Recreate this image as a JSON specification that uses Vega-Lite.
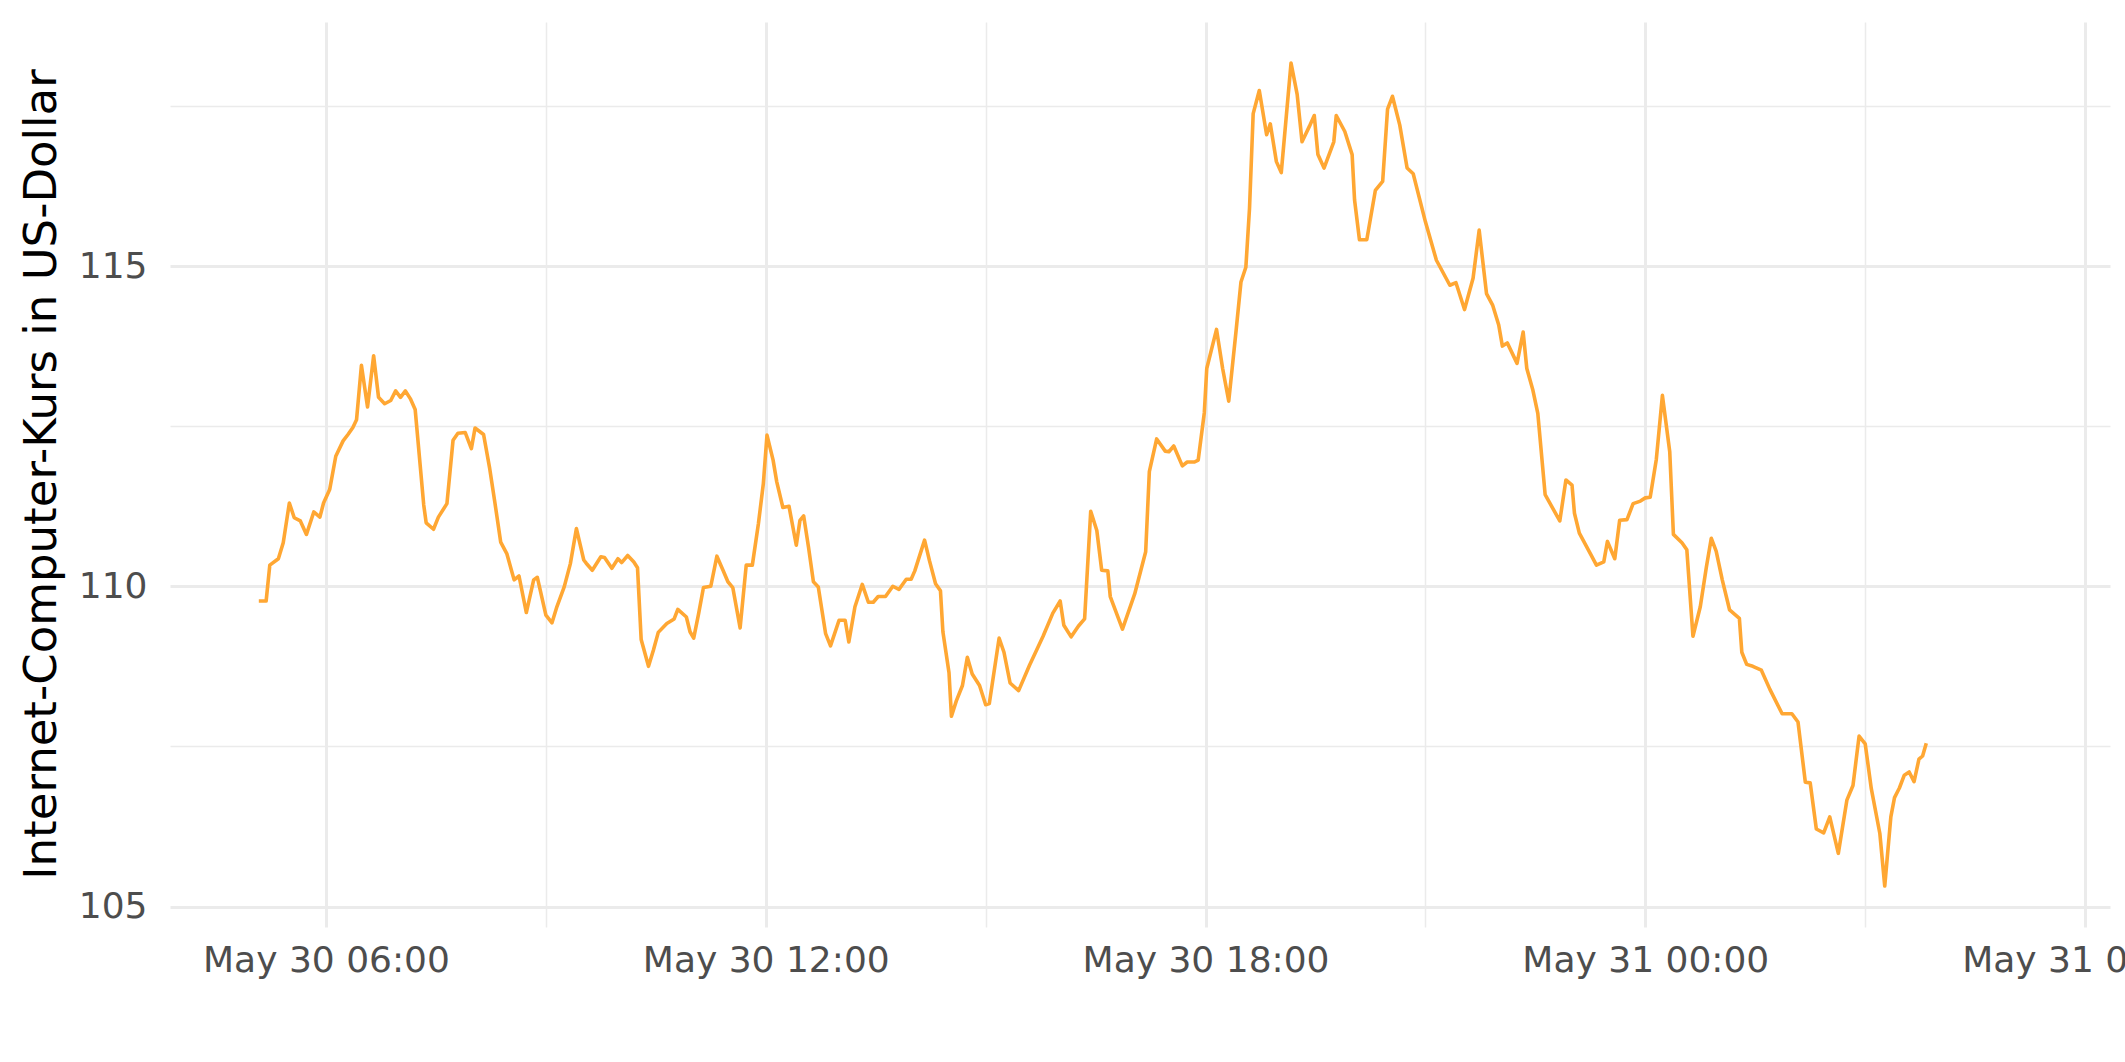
{
  "$schema": "https://vega.github.io/schema/vega-lite/v6.json",
  "width": 1940,
  "height": 905,
  "autosize": "none",
  "padding": {"left": 170, "top": 22, "right": 15, "bottom": 135},
  "background": "white",
  "config": {"view": {"stroke": null}, "font": "DejaVu Sans"},
  "data": {"values": [
    {"t":"2024-05-30T05:05:00Z","v":109.77},{"t":"2024-05-30T05:11:00Z","v":109.77},{"t":"2024-05-30T05:14:00Z","v":110.33},{"t":"2024-05-30T05:21:00Z","v":110.43},{"t":"2024-05-30T05:25:00Z","v":110.68},{"t":"2024-05-30T05:30:00Z","v":111.30},{"t":"2024-05-30T05:34:00Z","v":111.07},{"t":"2024-05-30T05:39:00Z","v":111.02},{"t":"2024-05-30T05:44:00Z","v":110.81},{"t":"2024-05-30T05:50:00Z","v":111.16},{"t":"2024-05-30T05:55:00Z","v":111.08},{"t":"2024-05-30T05:58:00Z","v":111.30},
    {"t":"2024-05-30T06:03:00Z","v":111.51},{"t":"2024-05-30T06:08:00Z","v":112.03},{"t":"2024-05-30T06:14:00Z","v":112.27},{"t":"2024-05-30T06:18:00Z","v":112.37},{"t":"2024-05-30T06:22:00Z","v":112.48},{"t":"2024-05-30T06:25:00Z","v":112.60},{"t":"2024-05-30T06:29:00Z","v":113.45},{"t":"2024-05-30T06:34:00Z","v":112.80},{"t":"2024-05-30T06:39:00Z","v":113.60},{"t":"2024-05-30T06:43:00Z","v":112.95},{"t":"2024-05-30T06:48:00Z","v":112.85},{"t":"2024-05-30T06:53:00Z","v":112.90},{"t":"2024-05-30T06:57:00Z","v":113.05},
    {"t":"2024-05-30T07:01:00Z","v":112.95},{"t":"2024-05-30T07:05:00Z","v":113.05},{"t":"2024-05-30T07:09:00Z","v":112.93},{"t":"2024-05-30T07:13:00Z","v":112.76},{"t":"2024-05-30T07:20:00Z","v":111.27},{"t":"2024-05-30T07:22:00Z","v":110.99},{"t":"2024-05-30T07:28:00Z","v":110.89},{"t":"2024-05-30T07:32:00Z","v":111.08},{"t":"2024-05-30T07:39:00Z","v":111.29},{"t":"2024-05-30T07:44:00Z","v":112.28},{"t":"2024-05-30T07:48:00Z","v":112.39},{"t":"2024-05-30T07:54:00Z","v":112.40},{"t":"2024-05-30T07:59:00Z","v":112.15},
    {"t":"2024-05-30T08:02:00Z","v":112.47},{"t":"2024-05-30T08:09:00Z","v":112.37},{"t":"2024-05-30T08:14:00Z","v":111.84},{"t":"2024-05-30T08:18:00Z","v":111.34},{"t":"2024-05-30T08:23:00Z","v":110.69},{"t":"2024-05-30T08:28:00Z","v":110.51},{"t":"2024-05-30T08:34:00Z","v":110.10},{"t":"2024-05-30T08:38:00Z","v":110.16},{"t":"2024-05-30T08:44:00Z","v":109.59},{"t":"2024-05-30T08:50:00Z","v":110.10},{"t":"2024-05-30T08:53:00Z","v":110.14},
    {"t":"2024-05-30T09:00:00Z","v":109.55},{"t":"2024-05-30T09:05:00Z","v":109.43},{"t":"2024-05-30T09:09:00Z","v":109.68},{"t":"2024-05-30T09:15:00Z","v":109.99},{"t":"2024-05-30T09:20:00Z","v":110.35},{"t":"2024-05-30T09:25:00Z","v":110.90},{"t":"2024-05-30T09:31:00Z","v":110.41},{"t":"2024-05-30T09:33:00Z","v":110.36},{"t":"2024-05-30T09:38:00Z","v":110.25},{"t":"2024-05-30T09:45:00Z","v":110.46},{"t":"2024-05-30T09:48:00Z","v":110.45},{"t":"2024-05-30T09:54:00Z","v":110.28},{"t":"2024-05-30T09:59:00Z","v":110.43},
    {"t":"2024-05-30T10:02:00Z","v":110.37},{"t":"2024-05-30T10:07:00Z","v":110.48},{"t":"2024-05-30T10:12:00Z","v":110.38},{"t":"2024-05-30T10:15:00Z","v":110.29},{"t":"2024-05-30T10:18:00Z","v":109.17},{"t":"2024-05-30T10:24:00Z","v":108.75},{"t":"2024-05-30T10:28:00Z","v":109.00},{"t":"2024-05-30T10:32:00Z","v":109.28},{"t":"2024-05-30T10:39:00Z","v":109.42},{"t":"2024-05-30T10:45:00Z","v":109.49},{"t":"2024-05-30T10:48:00Z","v":109.64},{"t":"2024-05-30T10:55:00Z","v":109.52},{"t":"2024-05-30T10:58:00Z","v":109.29},
    {"t":"2024-05-30T11:01:00Z","v":109.19},{"t":"2024-05-30T11:05:00Z","v":109.57},{"t":"2024-05-30T11:09:00Z","v":109.98},{"t":"2024-05-30T11:15:00Z","v":110.00},{"t":"2024-05-30T11:20:00Z","v":110.47},{"t":"2024-05-30T11:25:00Z","v":110.25},{"t":"2024-05-30T11:29:00Z","v":110.07},{"t":"2024-05-30T11:33:00Z","v":109.98},{"t":"2024-05-30T11:39:00Z","v":109.35},{"t":"2024-05-30T11:44:00Z","v":110.33},{"t":"2024-05-30T11:49:00Z","v":110.33},{"t":"2024-05-30T11:54:00Z","v":110.98},{"t":"2024-05-30T11:58:00Z","v":111.60},
    {"t":"2024-05-30T12:01:00Z","v":112.36},{"t":"2024-05-30T12:06:00Z","v":111.97},{"t":"2024-05-30T12:09:00Z","v":111.63},{"t":"2024-05-30T12:14:00Z","v":111.23},{"t":"2024-05-30T12:19:00Z","v":111.25},{"t":"2024-05-30T12:25:00Z","v":110.64},{"t":"2024-05-30T12:28:00Z","v":111.03},{"t":"2024-05-30T12:31:00Z","v":111.10},{"t":"2024-05-30T12:35:00Z","v":110.61},{"t":"2024-05-30T12:39:00Z","v":110.07},{"t":"2024-05-30T12:43:00Z","v":109.99},{"t":"2024-05-30T12:49:00Z","v":109.26},{"t":"2024-05-30T12:53:00Z","v":109.07},
    {"t":"2024-05-30T13:00:00Z","v":109.47},{"t":"2024-05-30T13:05:00Z","v":109.47},{"t":"2024-05-30T13:08:00Z","v":109.13},{"t":"2024-05-30T13:13:00Z","v":109.68},{"t":"2024-05-30T13:19:00Z","v":110.03},{"t":"2024-05-30T13:24:00Z","v":109.75},{"t":"2024-05-30T13:28:00Z","v":109.75},{"t":"2024-05-30T13:32:00Z","v":109.84},{"t":"2024-05-30T13:38:00Z","v":109.84},{"t":"2024-05-30T13:44:00Z","v":110.00},{"t":"2024-05-30T13:49:00Z","v":109.95},{"t":"2024-05-30T13:55:00Z","v":110.11},{"t":"2024-05-30T13:59:00Z","v":110.11},
    {"t":"2024-05-30T14:02:00Z","v":110.24},{"t":"2024-05-30T14:10:00Z","v":110.72},{"t":"2024-05-30T14:14:00Z","v":110.40},{"t":"2024-05-30T14:19:00Z","v":110.04},{"t":"2024-05-30T14:23:00Z","v":109.93},{"t":"2024-05-30T14:25:00Z","v":109.29},{"t":"2024-05-30T14:30:00Z","v":108.65},{"t":"2024-05-30T14:32:00Z","v":107.97},{"t":"2024-05-30T14:36:00Z","v":108.21},{"t":"2024-05-30T14:41:00Z","v":108.45},{"t":"2024-05-30T14:45:00Z","v":108.89},{"t":"2024-05-30T14:49:00Z","v":108.63},{"t":"2024-05-30T14:55:00Z","v":108.45},
    {"t":"2024-05-30T15:00:00Z","v":108.15},{"t":"2024-05-30T15:03:00Z","v":108.17},{"t":"2024-05-30T15:11:00Z","v":109.19},{"t":"2024-05-30T15:15:00Z","v":108.97},{"t":"2024-05-30T15:20:00Z","v":108.49},{"t":"2024-05-30T15:27:00Z","v":108.37},{"t":"2024-05-30T15:36:00Z","v":108.77},{"t":"2024-05-30T15:47:00Z","v":109.22},{"t":"2024-05-30T15:55:00Z","v":109.58},
    {"t":"2024-05-30T16:01:00Z","v":109.77},{"t":"2024-05-30T16:04:00Z","v":109.39},{"t":"2024-05-30T16:10:00Z","v":109.21},{"t":"2024-05-30T16:16:00Z","v":109.38},{"t":"2024-05-30T16:21:00Z","v":109.49},{"t":"2024-05-30T16:26:00Z","v":111.17},{"t":"2024-05-30T16:31:00Z","v":110.87},{"t":"2024-05-30T16:35:00Z","v":110.25},{"t":"2024-05-30T16:40:00Z","v":110.24},{"t":"2024-05-30T16:42:00Z","v":109.84},{"t":"2024-05-30T16:52:00Z","v":109.33},
    {"t":"2024-05-30T17:02:00Z","v":109.88},{"t":"2024-05-30T17:11:00Z","v":110.54},{"t":"2024-05-30T17:14:00Z","v":111.79},{"t":"2024-05-30T17:20:00Z","v":112.30},{"t":"2024-05-30T17:27:00Z","v":112.11},{"t":"2024-05-30T17:30:00Z","v":112.10},{"t":"2024-05-30T17:34:00Z","v":112.19},{"t":"2024-05-30T17:41:00Z","v":111.88},{"t":"2024-05-30T17:45:00Z","v":111.94},{"t":"2024-05-30T17:51:00Z","v":111.94},{"t":"2024-05-30T17:54:00Z","v":111.97},{"t":"2024-05-30T17:59:00Z","v":112.71},
    {"t":"2024-05-30T18:01:00Z","v":113.40},{"t":"2024-05-30T18:09:00Z","v":114.01},{"t":"2024-05-30T18:14:00Z","v":113.40},{"t":"2024-05-30T18:19:00Z","v":112.89},{"t":"2024-05-30T18:25:00Z","v":113.99},{"t":"2024-05-30T18:29:00Z","v":114.75},{"t":"2024-05-30T18:33:00Z","v":114.98},{"t":"2024-05-30T18:36:00Z","v":115.90},{"t":"2024-05-30T18:39:00Z","v":117.38},{"t":"2024-05-30T18:44:00Z","v":117.74},{"t":"2024-05-30T18:50:00Z","v":117.05},{"t":"2024-05-30T18:53:00Z","v":117.22},{"t":"2024-05-30T18:58:00Z","v":116.63},
    {"t":"2024-05-30T19:02:00Z","v":116.46},{"t":"2024-05-30T19:10:00Z","v":118.17},{"t":"2024-05-30T19:15:00Z","v":117.68},{"t":"2024-05-30T19:19:00Z","v":116.94},{"t":"2024-05-30T19:25:00Z","v":117.18},{"t":"2024-05-30T19:29:00Z","v":117.35},{"t":"2024-05-30T19:32:00Z","v":116.74},{"t":"2024-05-30T19:37:00Z","v":116.53},{"t":"2024-05-30T19:45:00Z","v":116.94},{"t":"2024-05-30T19:47:00Z","v":117.35},{"t":"2024-05-30T19:54:00Z","v":117.10},
    {"t":"2024-05-30T20:00:00Z","v":116.74},{"t":"2024-05-30T20:02:00Z","v":116.03},{"t":"2024-05-30T20:06:00Z","v":115.41},{"t":"2024-05-30T20:12:00Z","v":115.41},{"t":"2024-05-30T20:19:00Z","v":116.18},{"t":"2024-05-30T20:25:00Z","v":116.32},{"t":"2024-05-30T20:29:00Z","v":117.45},{"t":"2024-05-30T20:33:00Z","v":117.65},{"t":"2024-05-30T20:39:00Z","v":117.20},{"t":"2024-05-30T20:45:00Z","v":116.53},{"t":"2024-05-30T20:50:00Z","v":116.44},
    {"t":"2024-05-30T21:00:00Z","v":115.69},{"t":"2024-05-30T21:09:00Z","v":115.09},{"t":"2024-05-30T21:20:00Z","v":114.70},{"t":"2024-05-30T21:25:00Z","v":114.74},{"t":"2024-05-30T21:32:00Z","v":114.32},{"t":"2024-05-30T21:39:00Z","v":114.81},{"t":"2024-05-30T21:44:00Z","v":115.56},{"t":"2024-05-30T21:50:00Z","v":114.57},{"t":"2024-05-30T21:55:00Z","v":114.39},
    {"t":"2024-05-30T22:00:00Z","v":114.08},{"t":"2024-05-30T22:03:00Z","v":113.75},{"t":"2024-05-30T22:07:00Z","v":113.80},{"t":"2024-05-30T22:15:00Z","v":113.48},{"t":"2024-05-30T22:20:00Z","v":113.97},{"t":"2024-05-30T22:23:00Z","v":113.40},{"t":"2024-05-30T22:28:00Z","v":113.06},{"t":"2024-05-30T22:32:00Z","v":112.70},{"t":"2024-05-30T22:38:00Z","v":111.43},{"t":"2024-05-30T22:50:00Z","v":111.02},{"t":"2024-05-30T22:55:00Z","v":111.66},
    {"t":"2024-05-30T23:00:00Z","v":111.58},{"t":"2024-05-30T23:02:00Z","v":111.14},{"t":"2024-05-30T23:06:00Z","v":110.83},{"t":"2024-05-30T23:15:00Z","v":110.51},{"t":"2024-05-30T23:20:00Z","v":110.33},{"t":"2024-05-30T23:26:00Z","v":110.38},{"t":"2024-05-30T23:29:00Z","v":110.70},{"t":"2024-05-30T23:35:00Z","v":110.43},{"t":"2024-05-30T23:39:00Z","v":111.03},{"t":"2024-05-30T23:45:00Z","v":111.04},{"t":"2024-05-30T23:50:00Z","v":111.29},{"t":"2024-05-30T23:56:00Z","v":111.33},
    {"t":"2024-05-31T00:00:00Z","v":111.38},{"t":"2024-05-31T00:04:00Z","v":111.39},{"t":"2024-05-31T00:09:00Z","v":111.98},{"t":"2024-05-31T00:14:00Z","v":112.98},{"t":"2024-05-31T00:20:00Z","v":112.10},{"t":"2024-05-31T00:23:00Z","v":110.81},{"t":"2024-05-31T00:30:00Z","v":110.68},{"t":"2024-05-31T00:34:00Z","v":110.57},{"t":"2024-05-31T00:39:00Z","v":109.22},{"t":"2024-05-31T00:45:00Z","v":109.68},{"t":"2024-05-31T00:50:00Z","v":110.30},{"t":"2024-05-31T00:54:00Z","v":110.75},{"t":"2024-05-31T00:58:00Z","v":110.55},
    {"t":"2024-05-31T01:03:00Z","v":110.10},{"t":"2024-05-31T01:09:00Z","v":109.63},{"t":"2024-05-31T01:17:00Z","v":109.50},{"t":"2024-05-31T01:19:00Z","v":108.97},{"t":"2024-05-31T01:23:00Z","v":108.78},{"t":"2024-05-31T01:28:00Z","v":108.75},{"t":"2024-05-31T01:35:00Z","v":108.69},{"t":"2024-05-31T01:42:00Z","v":108.39},{"t":"2024-05-31T01:52:00Z","v":108.01},
    {"t":"2024-05-31T02:00:00Z","v":108.01},{"t":"2024-05-31T02:05:00Z","v":107.88},{"t":"2024-05-31T02:11:00Z","v":106.94},{"t":"2024-05-31T02:15:00Z","v":106.93},{"t":"2024-05-31T02:20:00Z","v":106.21},{"t":"2024-05-31T02:26:00Z","v":106.15},{"t":"2024-05-31T02:31:00Z","v":106.40},{"t":"2024-05-31T02:38:00Z","v":105.83},{"t":"2024-05-31T02:45:00Z","v":106.66},{"t":"2024-05-31T02:50:00Z","v":106.89},{"t":"2024-05-31T02:55:00Z","v":107.66},
    {"t":"2024-05-31T03:00:00Z","v":107.54},{"t":"2024-05-31T03:05:00Z","v":106.84},{"t":"2024-05-31T03:12:00Z","v":106.14},{"t":"2024-05-31T03:16:00Z","v":105.32},{"t":"2024-05-31T03:21:00Z","v":106.40},{"t":"2024-05-31T03:24:00Z","v":106.70},{"t":"2024-05-31T03:28:00Z","v":106.85},{"t":"2024-05-31T03:32:00Z","v":107.05},{"t":"2024-05-31T03:36:00Z","v":107.10},{"t":"2024-05-31T03:40:00Z","v":106.95},{"t":"2024-05-31T03:44:00Z","v":107.30},{"t":"2024-05-31T03:47:00Z","v":107.35},{"t":"2024-05-31T03:50:00Z","v":107.55}
  ]},
  "layer": [
    {
      "mark": {"type": "line", "opacity": 0},
      "encoding": {
        "x": {"field": "t", "type": "temporal",
          "scale": {"type": "utc", "domain": [{"year":2024,"month":5,"date":30,"hours":3,"minutes":52,"seconds":18,"utc":true},{"year":2024,"month":5,"date":31,"hours":6,"minutes":20,"seconds":24,"utc":true}]},
          "axis": {"orient": "top", "values": [{"year":2024,"month":5,"date":30,"hours":9,"utc":true},{"year":2024,"month":5,"date":30,"hours":15,"utc":true},{"year":2024,"month":5,"date":30,"hours":21,"utc":true},{"year":2024,"month":5,"date":31,"hours":3,"utc":true}],
            "labels": false, "ticks": false, "domain": false, "title": null, "grid": true, "gridColor": "#EBEBEB", "gridWidth": 1.5}},
        "y": {"field": "v", "type": "quantitative",
          "scale": {"domain": [104.68, 118.81], "nice": false, "zero": false},
          "axis": {"orient": "right", "values": [107.5, 112.5, 117.5], "labels": false, "ticks": false, "domain": false, "title": null, "grid": true, "gridColor": "#EBEBEB", "gridWidth": 1.5}}
      }
    },
    {
      "mark": {"type": "line", "color": "#FFA733", "strokeWidth": 3.6, "strokeJoin": "round"},
      "encoding": {
        "x": {"field": "t", "type": "temporal",
          "axis": {"orient": "bottom", "values": [{"year":2024,"month":5,"date":30,"hours":6,"utc":true},{"year":2024,"month":5,"date":30,"hours":12,"utc":true},{"year":2024,"month":5,"date":30,"hours":18,"utc":true},{"year":2024,"month":5,"date":31,"hours":0,"utc":true},{"year":2024,"month":5,"date":31,"hours":6,"utc":true}],
            "format": "%b %d %H:%M", "labelFontSize": 36, "labelColor": "#4D4D4D", "labelPadding": 16, "labelFlush": false, "labelOverlap": false, "labelBound": false, "labelLimit": 1000,
            "ticks": false, "domain": false, "title": null, "grid": true, "gridColor": "#EBEBEB", "gridWidth": 3}},
        "y": {"field": "v", "type": "quantitative",
          "axis": {"orient": "left", "values": [105, 110, 115], "labelFontSize": 36, "labelColor": "#4D4D4D", "labelPadding": 23,
            "ticks": false, "domain": false, "grid": true, "gridColor": "#EBEBEB", "gridWidth": 3,
            "title": "Internet-Computer-Kurs in US-Dollar", "titleFontSize": 45, "titleFontWeight": "normal", "titleColor": "black",
            "titleX": -115, "titleY": 452, "titleBaseline": "alphabetic", "titleAngle": 270}}
      }
    }
  ],
  "resolve": {"axis": {"x": "independent", "y": "independent"}}
}
